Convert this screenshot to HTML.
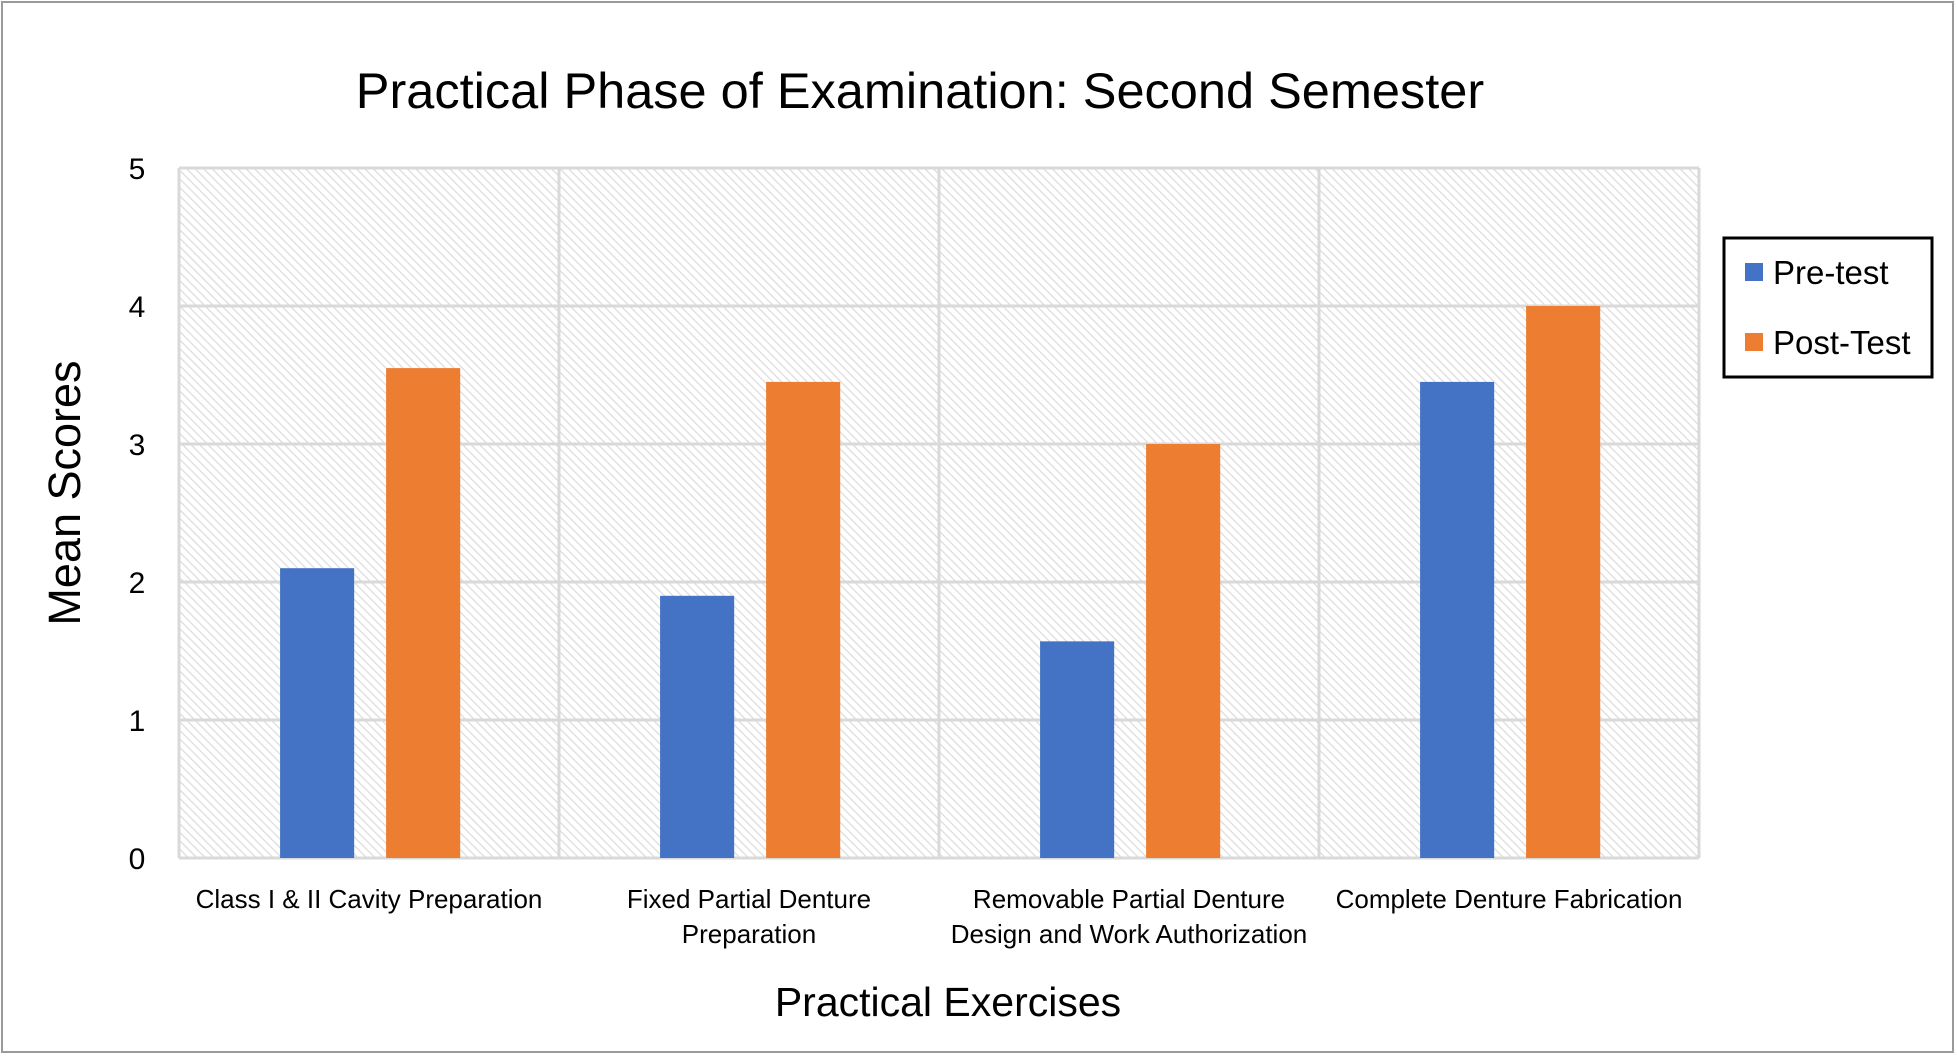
<!DOCTYPE html>
<html><head><meta charset="utf-8"><style>
html,body{margin:0;padding:0;background:#fff;}
svg{display:block;font-family:"Liberation Sans",sans-serif;}
</style></head><body>
<svg width="1957" height="1059" viewBox="0 0 1957 1059">
<defs>
<pattern id="hatch" patternUnits="userSpaceOnUse" width="6" height="6" patternTransform="rotate(-45)">
<rect width="6" height="6" fill="#fff"/>
<line x1="0" y1="0" x2="0" y2="6" stroke="#dcdcdc" stroke-width="2.5"/>
</pattern>
</defs>
<rect x="2" y="2" width="1951" height="1050" fill="#fff" stroke="#9a9a9a" stroke-width="2"/>
<text x="920" y="108" font-size="50.5" text-anchor="middle" fill="#000">Practical Phase of Examination: Second Semester</text>
<g id="plot"></g>
<text transform="translate(80,493) rotate(-90)" font-size="45" text-anchor="middle" fill="#000">Mean Scores</text>
<text x="948" y="1016" font-size="41" text-anchor="middle" fill="#000">Practical Exercises</text>
<g>
<rect x="1724" y="238" width="208" height="139" fill="#fff" stroke="#000" stroke-width="3"/>
<rect x="1745" y="263" width="18" height="18" fill="#4472c4"/>
<text x="1773" y="284" font-size="33" fill="#000">Pre-test</text>
<rect x="1745" y="333" width="18" height="18" fill="#ed7d31"/>
<text x="1773" y="354" font-size="33" fill="#000">Post-Test</text>
</g>
</svg>
<script>
const categories = [["Class I & II Cavity Preparation"],["Fixed Partial Denture","Preparation"],["Removable Partial Denture","Design and Work Authorization"],["Complete Denture Fabrication"]];
const preTest = [2.1, 1.9, 1.57, 3.45];
const postTest = [3.55, 3.45, 3.0, 4.0];
const yTicks = [0,1,2,3,4,5];

const NS="http://www.w3.org/2000/svg";
const g=document.getElementById('plot');
const X0=179, X1=1699, Y0=858, Y5=168;
const catW=(X1-X0)/categories.length;
const y=v=>Y0-(v/5)*(Y0-Y5);
const xCat=i=>X0+i*catW;
function mk(tag,attrs){const e=document.createElementNS(NS,tag);for(const k in attrs)e.setAttribute(k,attrs[k]);g.appendChild(e);return e;}
const bg=mk('rect',{x:X0,y:Y5,width:X1-X0,height:Y0-Y5,fill:'url(#hatch)'});


yTicks.forEach(t=>{
  const l=mk('line',{x1:X0,x2:X1,y1:y(t),y2:y(t),stroke:'#d9d9d9','stroke-width':3});
  
  
  const tx=mk('text',{x:137,y:y(t)+11,'font-size':30,'text-anchor':'middle',fill:'#000'});
  tx.textContent=t;
  
  
});
for(let i=0;i<=categories.length;i++){
  const l=mk('line',{x1:xCat(i),x2:xCat(i),y1:Y5,y2:Y0,stroke:'#d9d9d9','stroke-width':3});
  
  
}
const bw=catW*0.195;
categories.forEach((c,i)=>{
  const bx=xCat(i)+catW*0.266;
  const b1=mk('rect',{x:bx,y:y(preTest[i]),width:bw,height:Y0-y(preTest[i]),fill:'#4472c4'});
  
  
  const ox=bx+bw+catW*0.084;
  const b2=mk('rect',{x:ox,y:y(postTest[i]),width:bw,height:Y0-y(postTest[i]),fill:'#ed7d31'});
  
  
  c.forEach((line,j)=>{
    const t=mk('text',{x:xCat(i)+catW/2,y:908+j*35,'font-size':26,'text-anchor':'middle',fill:'#000'});
    t.textContent=line;
    
    
  });
});
</script>
</body></html>
